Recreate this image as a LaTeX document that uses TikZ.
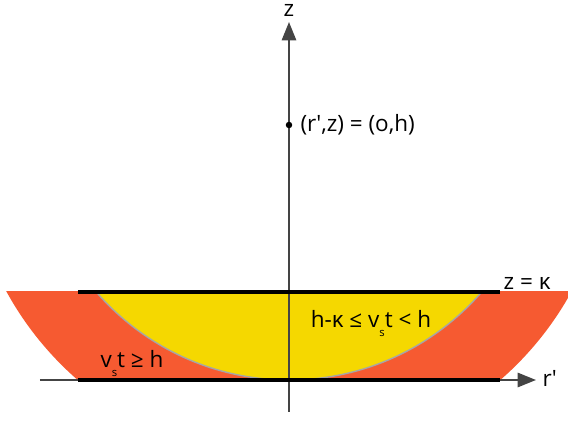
\documentclass[tikz,border=0pt]{standalone}
\usepackage{fontspec}
\setmainfont{Open Sans}
\usepackage{xcolor}
\usetikzlibrary{positioning,arrows.meta}
\definecolor{shellorange}{HTML}{F65A31}
\definecolor{capyellow}{HTML}{F5D800}
\definecolor{axisgray}{HTML}{444444}
\definecolor{rimgray}{HTML}{A6A6A6}
\newcommand{\vst}{v\raisebox{-0.7ex}{\fontsize{8}{8}\selectfont s}t}

\begin{document}
\begin{tikzpicture}[
  x=0.025cm, y=0.025cm,
  font=\fontsize{16}{18}\selectfont,
  axis/.style={axisgray, line width=1.3pt, -{Triangle[length=4.6mm, width=3.6mm]}},
  slabline/.style={black, line width=2.6pt},
  lbl/.style={inner sep=1pt, text=black},
]
\useasboundingbox (-289,-41) rectangle (279,380);

% slab between z = 0 and z = kappa
\begin{scope}
  \clip (-289,0) rectangle (279,88);
  \fill[shellorange] (0,243) circle (322);
  \fill[capyellow] (0,255) circle (255);
  \draw[rimgray, line width=1pt] (0,255) circle (255);
\end{scope}

\coordinate (zbot) at (0,-32);
\coordinate (ztop) at (0,358);
\coordinate (rleft) at (-249,0);
\coordinate (rright) at (247,0);
\coordinate (botL) at (-211,0);
\coordinate (botR) at (211,0);
\coordinate (topL) at (-211,88);
\coordinate (topR) at (211,88);

\draw[axis] (zbot) -- (ztop);
\draw[axis] (rleft) -- (rright);
\draw[slabline] (topL) -- (topR);
\draw[slabline] (botL) -- (botR);

\node[lbl, anchor=base] (zlbl) at (0,363) {z};
\node[lbl, anchor=base west] (rlbl) at (252,-7) {r′};
\node[lbl, anchor=base west] (kappa) at (213,90) {z = κ};

\fill (0,255) circle (2.3pt) coordinate (source);
\node[lbl, right=7pt of source] (srclbl) {(r′,z) = (o,h)};

\node[lbl, anchor=base] (yellowlbl) at (82,52) {h-κ ≤ \vst{} < h};
\node[lbl, anchor=base] (orangelbl) at (-157,12) {\vst{} ≥ h};
\end{tikzpicture}
\end{document}
